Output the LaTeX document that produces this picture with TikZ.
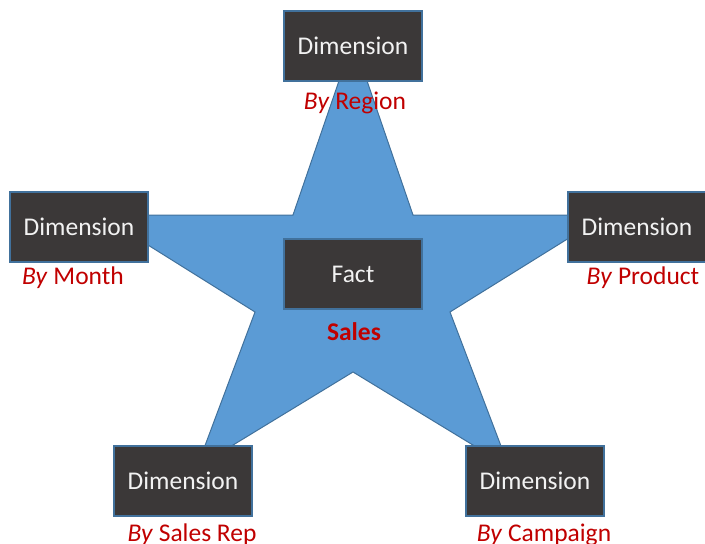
\documentclass[tikz,border=0pt]{standalone}
\usepackage{fontspec}
\setmainfont{Carlito}
\definecolor{starblue}{HTML}{5B9BD5}
\definecolor{stardark}{HTML}{41719C}
\definecolor{boxfill}{HTML}{3B3838}
\definecolor{boxtext}{HTML}{F2F2F2}
\definecolor{labred}{HTML}{C00000}
\tikzset{
  dimbox/.style={draw=stardark, line width=1.2pt, fill=boxfill, text=boxtext,
    minimum width=138pt, minimum height=70pt, inner sep=0pt,
    font=\fontsize{25.5}{30}\selectfont},
  lab/.style={text=labred, anchor=base, inner sep=0pt,
    font=\fontsize{25.5}{30}\selectfont},
}
\begin{document}
\begin{tikzpicture}[x=1pt,y=-1pt]
\useasboundingbox (0,0) rectangle (705,544);
% star
\draw[fill=starblue, draw=stardark, line width=1pt, line join=miter]
  (353,40) -- (413,215) -- (606,215) -- (450,312) -- (509,467)
  -- (353,372) -- (197,467) -- (255,312) -- (100,215) -- (293,215) -- cycle;
% boxes
\node[dimbox] (top) at (353,46) {Dimension};
\node[dimbox] (left) at (79,227) {Dimension};
\node[dimbox] (right) at (637,227) {Dimension};
\node[dimbox] (bl) at (183,481) {Dimension};
\node[dimbox] (br) at (535,481) {Dimension};
\node[dimbox] (fact) at (353,274) {Fact};
% labels
\node[lab] (lregion) at (355,109) {\textit{By} Region};
\node[lab] (lmonth) at (73,284) {\textit{By} Month};
\node[lab] (lproduct) at (643,284) {\textit{By} Product};
\node[lab] (lrep) at (192,541) {\textit{By} Sales Rep};
\node[lab] (lcamp) at (544,541) {\textit{By} Campaign};
\node[lab, font=\fontsize{25.5}{30}\selectfont\bfseries] (lsales) at (354,340) {Sales};
\end{tikzpicture}
\end{document}
